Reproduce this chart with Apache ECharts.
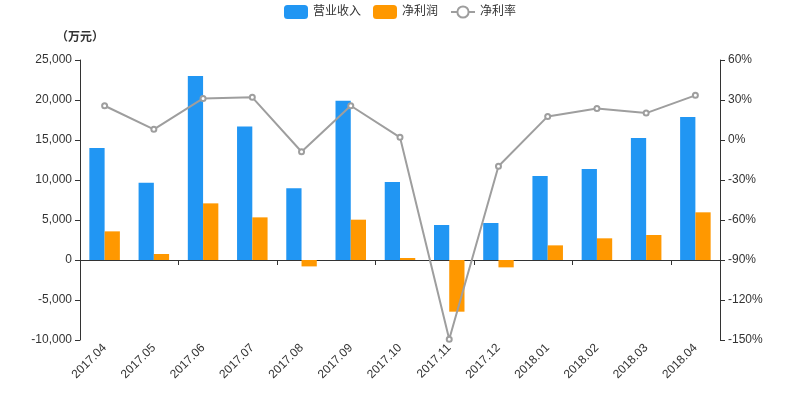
<!DOCTYPE html>
<html><head><meta charset="utf-8">
<script src="https://cdn.jsdelivr.net/npm/echarts@6/dist/echarts.min.js"></script>
<style>html,body{margin:0;padding:0;background:#fff}#c{width:800px;height:400px}</style>
</head><body><div id="c"></div>
<script>
var categories = ['2017.04','2017.05','2017.06','2017.07','2017.08','2017.09','2017.10','2017.11','2017.12','2018.01','2018.02','2018.03','2018.04'];
var revenue = [14000, 9650, 23000, 16700, 8960, 19900, 9750, 4375, 4625, 10500, 11375, 15250, 17875];
var netProfit = [3580, 750, 7080, 5330, -800, 5040, 250, -6460, -920, 1830, 2710, 3125, 5960];
var netMargin = [25.7, 8.0, 31.2, 32.0, -8.8, 25.7, 2.0, -149.5, -19.7, 17.7, 23.7, 20.2, 33.5];
var leftTicks = {min: -10000, max: 25000, interval: 5000};
var rightTicks = {min: -150, max: 60, interval: 30};

var font = 'Arial, "Liberation Sans", "Noto Sans CJK SC", sans-serif';
var chart = echarts.init(document.getElementById('c'));
function fmt(v){ var s = Math.abs(v).toString().replace(/\B(?=(\d{3})+(?!\d))/g, ','); return (v<0?'-':'') + s; }
chart.setOption({
  animation: false,
  textStyle: {fontFamily: font},
  legend: {
    top: 0, left: 'center', itemWidth: 24, itemHeight: 14, itemGap: 12,
    textStyle: {color: '#333', fontSize: 12, fontFamily: font},
    data: [{name: '营业收入', icon: 'roundRect'}, {name: '净利润', icon: 'roundRect'}, {name: '净利率'}]
  },
  grid: {left: 80, right: 80, top: 60, bottom: 60},
  xAxis: [{
    type: 'category', data: categories, boundaryGap: true,
    axisLine: {show: true, onZero: true, lineStyle: {color: '#333'}},
    axisTick: {show: true, lineStyle: {color: '#333'}},
    axisLabel: {show: false}, splitLine: {show: false}
  }, {
    type: 'category', data: categories, position: 'bottom', boundaryGap: true,
    axisLine: {show: false, onZero: false}, axisTick: {show: false},
    axisLabel: {show: true, rotate: 45, color: '#333', fontSize: 12, fontFamily: font, margin: 6},
    splitLine: {show: false}
  }],
  yAxis: [{
    type: 'value', min: leftTicks.min, max: leftTicks.max, interval: leftTicks.interval,
    name: '（万元）', nameGap: 16, nameTextStyle: {color: '#333', fontWeight: 'bold', fontSize: 12, fontFamily: font},
    axisLine: {show: true, lineStyle: {color: '#333'}}, axisTick: {show: true, lineStyle: {color: '#333'}},
    axisLabel: {color: '#333', fontSize: 12, fontFamily: font, formatter: fmt},
    splitLine: {show: false}
  }, {
    type: 'value', min: rightTicks.min, max: rightTicks.max, interval: rightTicks.interval, position: 'right',
    axisLine: {show: true, lineStyle: {color: '#333'}}, axisTick: {show: true, lineStyle: {color: '#333'}},
    axisLabel: {color: '#333', fontSize: 12, fontFamily: font, formatter: '{value}%'},
    splitLine: {show: false}
  }],
  series: [{
    name: '营业收入', type: 'bar', data: revenue, xAxisIndex: 0, yAxisIndex: 0,
    barGap: '0%', barCategoryGap: '38%',
    itemStyle: {color: '#2196F3'}
  }, {
    name: '净利润', type: 'bar', data: netProfit, xAxisIndex: 0, yAxisIndex: 0,
    itemStyle: {color: '#FF9800'}
  }, {
    name: '净利率', type: 'line', data: netMargin, xAxisIndex: 0, yAxisIndex: 1,
    symbol: 'emptyCircle', symbolSize: 5, showAllSymbol: true,
    lineStyle: {color: '#9e9e9e', width: 2}, itemStyle: {color: '#9e9e9e', borderColor: '#9e9e9e', borderWidth: 1}
  }]
});
</script></body></html>
